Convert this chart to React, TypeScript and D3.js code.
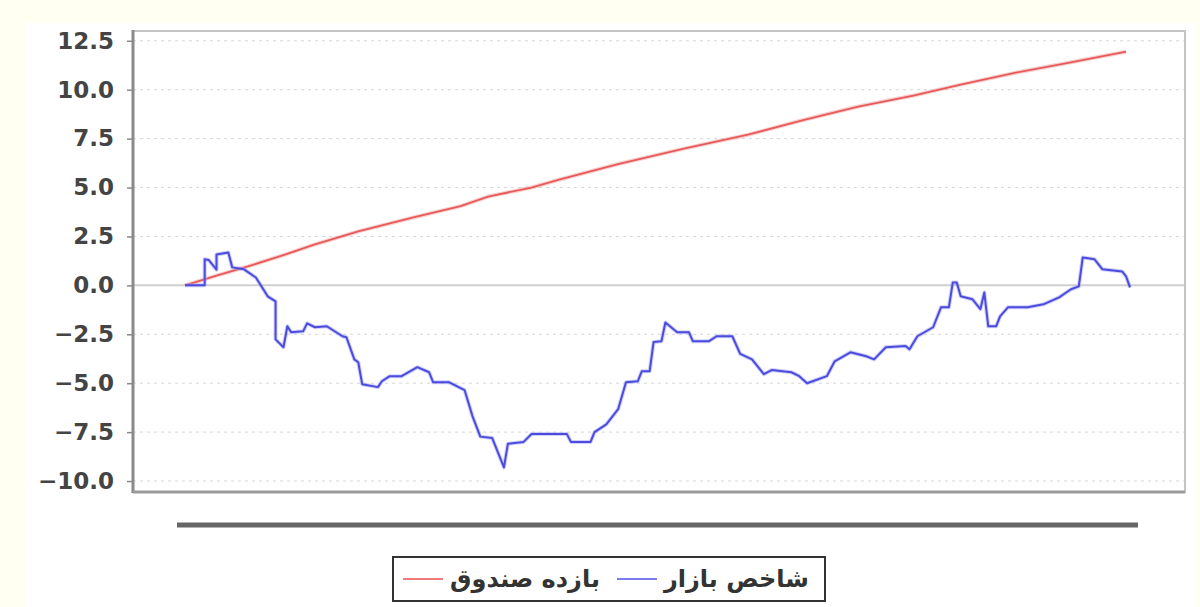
import { useEffect, useRef } from 'react';
import * as d3 from 'd3';

// market index (blue) — trading day / cumulative return %
const marketDays = [
  0, 5, 5, 6, 8, 8, 11, 12, 15, 18, 21, 23, 23, 25, 26, 27, 30, 31, 33, 36,
  40, 41, 43, 44, 45, 49, 50, 52, 55, 59, 62, 63, 67, 71, 73, 75, 78, 81, 82, 86,
  88, 97, 98, 103, 104, 107, 110, 112, 115, 116, 118, 119, 121, 122, 125, 128, 129, 133, 135, 139,
  141, 144, 147, 149, 154, 156, 158, 163, 165, 169, 173, 175, 178, 183, 184, 186, 190, 192, 194, 195,
  196, 197, 200, 202, 203, 204, 206, 207, 209, 214, 218, 222, 225, 227, 228, 231, 233, 238, 239, 240,
];
const marketValues = [
  0, 0, 1.33, 1.3, 0.8, 1.58, 1.68, 0.92, 0.82, 0.4, -0.56, -0.82, -2.76, -3.16, -2.09, -2.4, -2.35, -1.94, -2.14, -2.09,
  -2.6, -2.65, -3.78, -3.93, -5.05, -5.2, -4.9, -4.64, -4.64, -4.18, -4.44, -4.95, -4.95, -5.35, -6.68, -7.73, -7.8, -9.3, -8.1, -8.0,
  -7.6, -7.6, -8.0, -8.0, -7.5, -7.1, -6.33, -4.95, -4.9, -4.39, -4.39, -2.9, -2.86, -1.9, -2.4, -2.4, -2.86, -2.86, -2.6, -2.6,
  -3.5, -3.78, -4.54, -4.33, -4.44, -4.64, -5.0, -4.64, -3.88, -3.42, -3.62, -3.78, -3.16, -3.1, -3.27, -2.6, -2.14, -1.12, -1.12, 0.15,
  0.15, -0.56, -0.71, -1.22, -0.36, -2.09, -2.09, -1.58, -1.12, -1.12, -0.97, -0.61, -0.2, -0.05, 1.43, 1.33, 0.82, 0.71, 0.46, -0.1,
];

// fund return (red)
const fundDays = [0, 8, 16, 25, 33, 44, 58, 70, 77, 88, 95, 110, 127, 143, 157, 171, 185, 197, 211, 225, 239];
const fundValues = [0, 0.5, 0.97, 1.55, 2.09, 2.76, 3.47, 4.05, 4.54, 5.0, 5.4, 6.2, 7.0, 7.7, 8.45, 9.14, 9.7, 10.26, 10.87, 11.4, 11.94];

const yTicks = [-10, -7.5, -5, -2.5, 0, 2.5, 5, 7.5, 10, 12.5];

const legendItems = [
  { label: 'بازده صندوق', color: '#ef7b7b' },
  { label: 'شاخص بازار', color: '#7b7bef' },
];

const W = 1200;
const H = 607;
const plot = { left: 133, right: 1185, top: 31, bottom: 492 };

export default function App() {
  const svgRef = useRef<SVGSVGElement>(null);

  useEffect(() => {
    if (!svgRef.current) return;
    const svg = d3.select(svgRef.current);
    svg.selectAll('*').remove();

    const x = d3.scaleLinear().domain([0, 240]).range([185, 1130]);
    const y = d3.scaleLinear().domain([-10.56, 13.0]).range([plot.bottom, plot.top]);

    svg.append('rect').attr('width', W).attr('height', H).attr('fill', '#fffff2');
    svg.append('rect').attr('x', 25).attr('y', 23).attr('width', 1170).attr('height', H - 23).attr('fill', '#ffffff');

    // plot background + grid
    svg.append('rect')
      .attr('x', plot.left).attr('y', plot.top)
      .attr('width', plot.right - plot.left).attr('height', plot.bottom - plot.top)
      .attr('fill', '#fff');

    const grid = svg.append('g');
    yTicks.forEach((t) => {
      grid.append('line')
        .attr('x1', plot.left).attr('x2', plot.right)
        .attr('y1', y(t)).attr('y2', y(t))
        .attr('stroke', t === 0 ? '#cfcfcf' : '#d6d6d6')
        .attr('stroke-width', t === 0 ? 2 : 1)
        .attr('stroke-dasharray', t === 0 ? null : '3,4');
    });

    // frame
    svg.append('rect')
      .attr('x', plot.left).attr('y', plot.top)
      .attr('width', plot.right - plot.left).attr('height', plot.bottom - plot.top)
      .attr('fill', 'none').attr('stroke', '#c4c4c4').attr('stroke-width', 2);

    // y axis
    const yAxis = svg.append('g').attr('transform', `translate(${plot.left},0)`)
      .call(d3.axisLeft(y).tickValues(yTicks).tickFormat(d3.format('.1f')).tickSize(6).tickPadding(13));
    yAxis.select('.domain').remove();
    yAxis.selectAll('line').attr('stroke', '#888').attr('stroke-width', 1.5);
    yAxis.selectAll('text')
      .attr('font-family', 'DejaVu Sans')
      .attr('font-weight', 'bold')
      .attr('font-size', 23)
      .attr('fill', '#444');

    svg.append('line')
      .attr('x1', plot.left).attr('x2', plot.left)
      .attr('y1', plot.top - 1).attr('y2', plot.bottom + 1)
      .attr('stroke', '#8a8a8a').attr('stroke-width', 3);
    svg.append('line')
      .attr('x1', plot.left).attr('x2', plot.right)
      .attr('y1', plot.bottom).attr('y2', plot.bottom)
      .attr('stroke', '#9a9a9a').attr('stroke-width', 3);

    const line = d3.line<[number, number]>().x((d) => x(d[0])).y((d) => y(d[1]));

    const fund = fundDays.map((d, i) => [d, fundValues[i]] as [number, number]);
    const market = marketDays.map((d, i) => [d, marketValues[i]] as [number, number]);

    svg.append('path').datum(fund)
      .attr('d', line).attr('fill', 'none')
      .attr('stroke', '#f2a0a0').attr('stroke-width', 4).attr('opacity', 0.5);
    svg.append('path').datum(fund)
      .attr('d', line).attr('fill', 'none')
      .attr('stroke', '#e85a5a').attr('stroke-width', 1.8);

    svg.append('path').datum(market)
      .attr('d', line).attr('fill', 'none')
      .attr('stroke', '#a0a0f4').attr('stroke-width', 4).attr('opacity', 0.5)
      .attr('stroke-linejoin', 'round');
    svg.append('path').datum(market)
      .attr('d', line).attr('fill', 'none')
      .attr('stroke', '#4b4bde').attr('stroke-width', 2)
      .attr('stroke-linejoin', 'round');

    // separator bar under plot
    svg.append('line')
      .attr('x1', 177).attr('x2', 1138).attr('y1', 525).attr('y2', 525)
      .attr('stroke', '#666').attr('stroke-width', 5);

    // legend
    const lg = svg.append('g');
    lg.append('rect')
      .attr('x', 393).attr('y', 557).attr('width', 432).attr('height', 44)
      .attr('fill', '#fff').attr('stroke', '#333').attr('stroke-width', 2);
    const itemX = [403, 617];
    legendItems.forEach((it, i) => {
      lg.append('line')
        .attr('x1', itemX[i]).attr('x2', itemX[i] + 40)
        .attr('y1', 579).attr('y2', 579)
        .attr('stroke', it.color).attr('stroke-width', 2);
      lg.append('text')
        .attr('x', itemX[i] + 47).attr('y', 587)
        .attr('font-family', 'DejaVu Sans')
        .attr('font-weight', 'bold')
        .attr('font-size', 24)
        .attr('fill', '#333')
        .text(it.label);
    });
  }, []);

  return (
    <div style={{ position: 'fixed', left: 0, top: 0, width: W, height: H, background: '#fff' }}>
      <svg ref={svgRef} width={W} height={H} />
    </div>
  );
}
